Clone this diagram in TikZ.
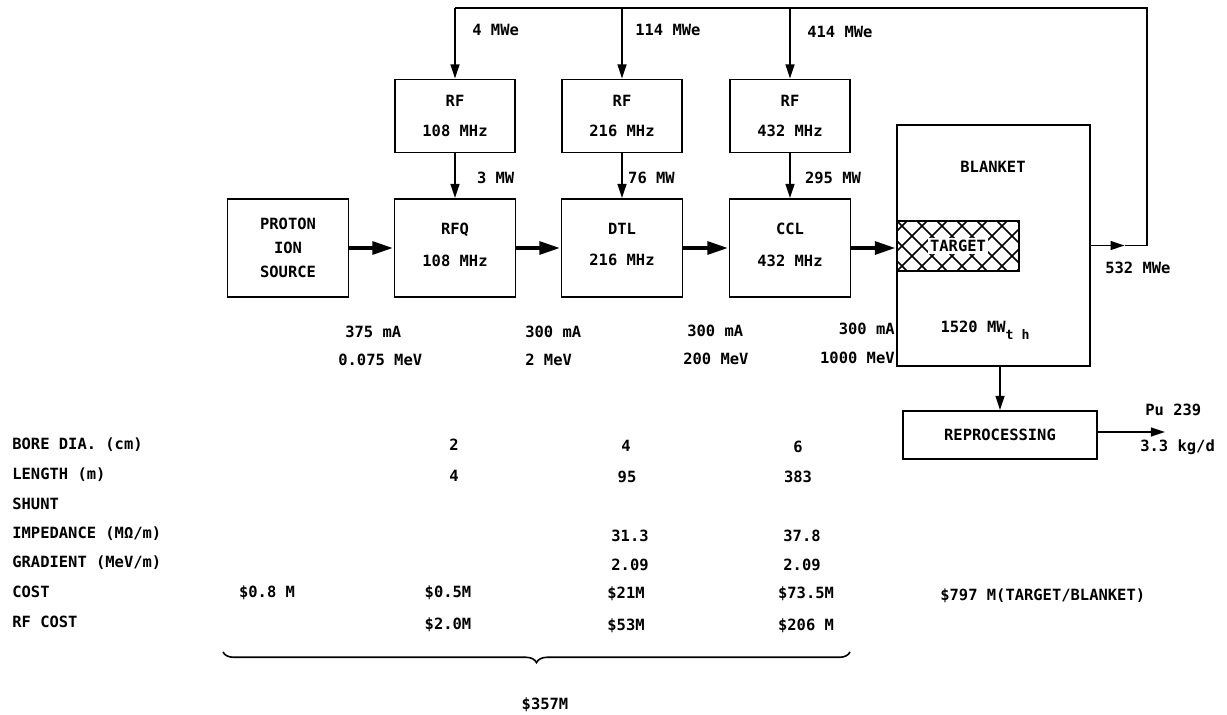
\documentclass[tikz,border=0pt]{standalone}
\usepackage{fontspec}
\setmainfont{DejaVu Sans Mono}
\usepackage{tikz}
\usetikzlibrary{arrows.meta,decorations.pathreplacing}

\begin{document}
\begin{tikzpicture}[x=0.02cm,y=-0.02cm,
  every node/.style={font=\fontsize{8.8}{10}\selectfont\bfseries,inner sep=0pt},
  blk/.style ={draw,line width=1.1pt,minimum width=2.42cm,minimum height=1.96cm,
               align=center,font=\fontsize{8.8}{18}\selectfont\bfseries},
  rfb/.style ={blk,minimum width=2.4cm,minimum height=1.46cm,
               font=\fontsize{8.8}{17}\selectfont\bfseries},
  wire/.style={line width=1.1pt},
  pwr/.style ={wire,-{Triangle[length=8pt,width=5pt]}},
  beam/.style={line width=2.6pt,-{Triangle[length=12pt,width=7pt]}},
  lbl/.style ={anchor=west},
  val/.style ={anchor=center}
]
\useasboundingbox (0,0) rectangle (1227,714);

%% RF power supplies
\node[rfb] (rf1) at (455,116) {RF\\108 MHz};
\node[rfb] (rf2) at (622,116) {RF\\216 MHz};
\node[rfb] (rf3) at (790,116) {RF\\432 MHz};

%% Accelerator line
\node[blk,font=\fontsize{8.8}{13.5}\selectfont\bfseries] (src) at (288,248) {PROTON\\ION\\SOURCE};
\node[blk] (rfq) at (455,248) {RFQ\\108 MHz\\[-14pt]};
\node[blk] (dtl) at (622,248) {DTL\\216 MHz\\[-14pt]};
\node[blk] (ccl) at (790,248) {CCL\\432 MHz\\[-14pt]};

%% Blanket with target
\node[draw,line width=1.1pt,minimum width=3.86cm,minimum height=4.82cm] (bl) at (993.5,245.5) {};
\node[draw,line width=1.1pt,minimum width=2.44cm,minimum height=1cm] (tgt) at (958,246) {};
\begin{scope}
  \clip (tgt.south west) rectangle (tgt.north east);
  \foreach \i in {857,877,...,1037}{
    \draw[line width=0.9pt] (\i,221) -- (\i+50,271);
    \draw[line width=0.9pt] (\i,271) -- (\i+50,221);
  }
\end{scope}
\node[fill=white,inner sep=1pt] (tgtl) at (tgt.center) {TARGET};
\node (bll) at (993,167) {BLANKET};
\node (blp) at (985,330) {1520 MW\raisebox{-4pt}{\fontsize{7.5}{8}\selectfont t h}};

%% Reprocessing
\node[draw,line width=1.1pt,minimum width=3.88cm,minimum height=0.96cm] (rep) at (1000,435) {REPROCESSING};

%% Beam
\draw[beam] (src.east) -- (rfq.west);
\draw[beam] (rfq.east) -- (dtl.west);
\draw[beam] (dtl.east) -- (ccl.west);
\draw[beam] (ccl.east) -- (ccl.east -| bl.west);

%% RF power into the cavities
\draw[pwr] (rf1.south) -- node[lbl,xshift=12pt,yshift=-1pt]{3 MW} (rfq.north);
\draw[pwr] (rf2.south) -- node[lbl,xshift=3pt,yshift=-1pt]{76 MW} (dtl.north);
\draw[pwr] (rf3.south) -- node[lbl,xshift=8pt,yshift=-1pt]{295 MW} (ccl.north);

%% Electric power loop
\coordinate (pout) at (1147,245.5);
\coordinate (ptop) at (1147,8);
\path (bl.east) -- coordinate[pos=0.6] (pmid) (pout);
\draw[pwr] (bl.east) -- (pmid);
\draw[wire] (pmid) -- (pout) -- (ptop) -- (rf1.north |- ptop);
\draw[pwr] (rf1.north |- ptop) -- (rf1.north);
\draw[pwr] (rf2.north |- ptop) -- (rf2.north);
\draw[pwr] (rf3.north |- ptop) -- (rf3.north);
\node[lbl] (p1) at (472,30) {4 MWe};
\node[lbl] (p2) at (635,30) {114 MWe};
\node[lbl] (p3) at (807,32) {414 MWe};
\node[lbl] (pel) at (1105,268) {532 MWe};

%% Blanket to reprocessing
\coordinate (puend) at (1165,432);
\draw[pwr] (rep.north |- bl.south) -- (rep.north);
\draw[pwr] (rep.east |- puend) -- (puend);
\node[lbl] (pu) at (1145,410) {Pu 239};
\node[lbl] (pur) at (1140,447) {3.3 kg/d};

%% Beam current and energy
\node[lbl] (c1) at (345,332) {375 mA};
\node[lbl] (e1) at (338,360) {0.075 MeV};
\node[lbl] (c2) at (525,332) {300 mA};
\node[lbl] (e2) at (525,360) {2 MeV};
\node[lbl] (c3) at (687,331) {300 mA};
\node[lbl] (e3) at (683,359) {200 MeV};
\node[anchor=east] (c4) at (895,329) {300 mA};
\node[anchor=east] (e4) at (895,358) {1000 MeV};

%% Parameter table
\node[lbl] (t1) at (12,445) {BORE DIA. (cm)};
\node[lbl] (t2) at (12,475) {LENGTH (m)};
\node[lbl] (t3) at (12,504) {SHUNT};
\node[lbl] (t4) at (12,534) {IMPEDANCE (MΩ/m)};
\node[lbl] (t5) at (12,563) {GRADIENT (MeV/m)};
\node[lbl] (t6) at (12,592) {COST};
\node[lbl] (t7) at (12,622) {RF COST};

\node[val] (s6) at (267,593) {\$0.8 M};
\node[val] (q1) at (454,445) {2};
\node[val] (q2) at (454,476) {4};
\node[val] (q6) at (448,593) {\$0.5M};
\node[val] (q7) at (448,625) {\$2.0M};
\node[val] (d1) at (626,446) {4};
\node[val] (d2) at (627,477) {95};
\node[val] (d4) at (630,536) {31.3};
\node[val] (d5) at (630,565) {2.09};
\node[val] (d6) at (626,594) {\$21M};
\node[val] (d7) at (626,626) {\$53M};
\node[val] (k1) at (798,447) {6};
\node[val] (k2) at (798,477) {383};
\node[val] (k4) at (802,536) {37.8};
\node[val] (k5) at (802,565) {2.09};
\node[val] (k6) at (806,594) {\$73.5M};
\node[val] (k7) at (806,626) {\$206 M};
\node[lbl] (bc) at (940,596) {\$797 M(TARGET/BLANKET)};

%% Linac total
\coordinate (bra) at (223,652);
\coordinate (brb) at (850,652);
\draw[line width=0.9pt,decorate,decoration={brace,mirror,amplitude=6pt}] (bra) -- (brb);
\node (tot) at (545,705) {\$357M};
\end{tikzpicture}
\end{document}
